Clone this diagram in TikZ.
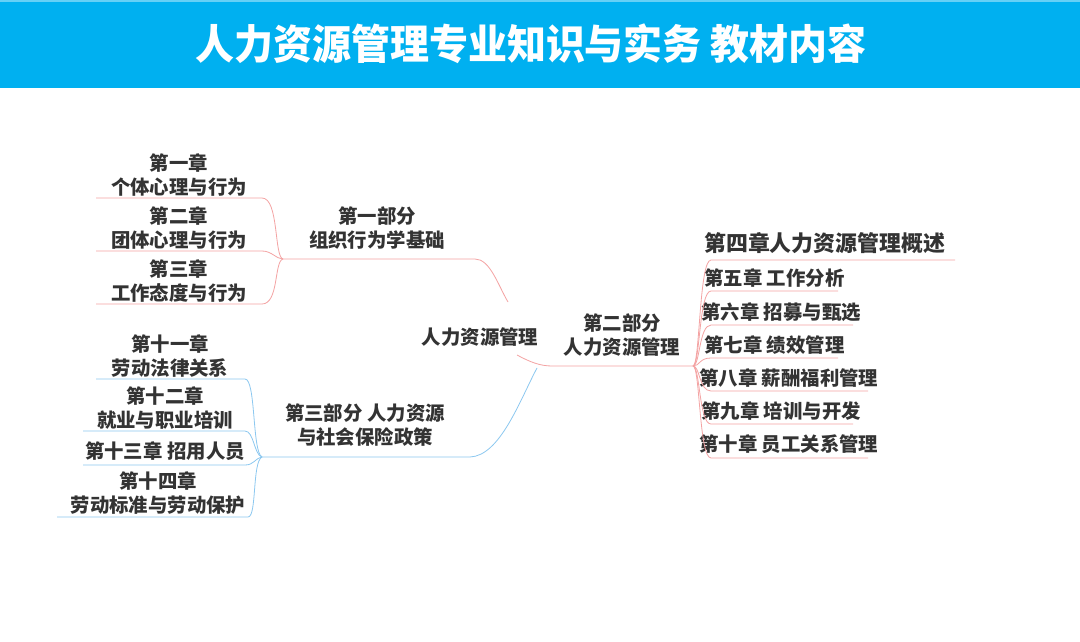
\documentclass[tikz,border=0pt]{standalone}
\usepackage{fontspec}
\setmainfont{Noto Sans CJK SC}
\definecolor{hdr}{HTML}{00B0F0}
\definecolor{txt}{HTML}{333333}
\definecolor{pinkline}{HTML}{F4A3A3}
\definecolor{blueline}{HTML}{8CC8F0}
\begin{document}
\begin{tikzpicture}[x=1pt,y=-1pt,
  t/.style={font=\bfseries\fontsize{19.4}{23.5}\selectfont,text=txt,align=center,inner sep=0pt},
  tb/.style={t,font=\bfseries\fontsize{21.9}{26}\selectfont},
  pk/.style={draw=pinkline,line width=0.8pt},
  bl/.style={draw=blueline,line width=0.8pt}]
\useasboundingbox (0,0) rectangle (1080,642);
\fill[white] (0,0) rectangle (1080,642);
\fill[hdr!60] (0,0) rectangle (1080,2);
\fill[hdr] (0,2) rectangle (1080,88);
\node[font=\bfseries\fontsize{41}{46}\selectfont,text=white,inner sep=0pt,xscale=0.95] (title) at (531,44) {人力资源管理专业知识与实务 教材内容};

% center
\node[t] (root) at (480,337) {人力资源管理};

% part 1
\node[t] (p1) at (377,228) {第一部分\\组织行为学基础};
\node[t] (c1) at (179,175) {第一章\\个体心理与行为};
\node[t] (c2) at (179,228) {第二章\\团体心理与行为};
\node[t] (c3) at (179,281) {第三章\\工作态度与行为};
\coordinate (h1) at (283,259);
\coordinate (r1) at (508,302);
\draw[pk] (96,198) -- (262,198) .. controls (279,198) and (274,257) .. (h1);
\draw[pk] (96,251) -- (262,251) .. controls (272,251) and (276,259) .. (h1);
\draw[pk] (96,304) -- (262,304) .. controls (279,304) and (274,261) .. (h1);
\draw[pk] (h1) -- (475,259) .. controls (490,259) and (498,285) .. (r1);

% part 3
\node[t] (p3) at (365,425) {第三部分 人力资源\\与社会保险政策};
\node[t] (c11) at (170,356) {第十一章\\劳动法律关系};
\node[t] (c12) at (165,408) {第十二章\\就业与职业培训};
\node[t] (c13) at (165,451) {第十三章 招用人员};
\node[t] (c14) at (158,493) {第十四章\\劳动标准与劳动保护};
\coordinate (h3) at (262,457);
\coordinate (r3) at (537,368);
\draw[bl] (96,379) -- (245,379) .. controls (256,379) and (252,452) .. (h3);
\draw[bl] (83,431) -- (245,431) .. controls (254,431) and (254,455) .. (h3);
\draw[bl] (83,465) -- (245,465) .. controls (254,465) and (254,459) .. (h3);
\draw[bl] (57,517) -- (248,517) .. controls (257,517) and (252,462) .. (h3);
\draw[bl] (h3) -- (470,457) .. controls (500,456) and (520,400) .. (r3);

% part 2
\node[t] (p2) at (622,335) {第二部分\\人力资源管理};
\coordinate (r2) at (517,355);
\coordinate (h2) at (693,366);
\draw[pk] (r2) .. controls (530,362) and (540,366) .. (552,366) -- (h2);
\node[tb,anchor=west] (c4) at (704,243) {第四章人力资源管理概述};
\node[t,anchor=west] (c5) at (704,278) {第五章 工作分析};
\node[t,anchor=west] (c6) at (701,312) {第六章 招募与甄选};
\node[t,anchor=west] (c7) at (704,345) {第七章 绩效管理};
\node[t,anchor=west] (c8) at (699,378) {第八章 薪酬福利管理};
\node[t,anchor=west] (c9) at (701,411) {第九章 培训与开发};
\node[t,anchor=west] (c10) at (699,444) {第十章 员工关系管理};
\foreach \y/\e in {260/955,291/838,325/853,358/838,391/868,424/853,458/868}{
  \draw[pk] (h2) .. controls (700,366) and (699,\y) .. (711,\y) -- (\e,\y);
}
\end{tikzpicture}
\end{document}
